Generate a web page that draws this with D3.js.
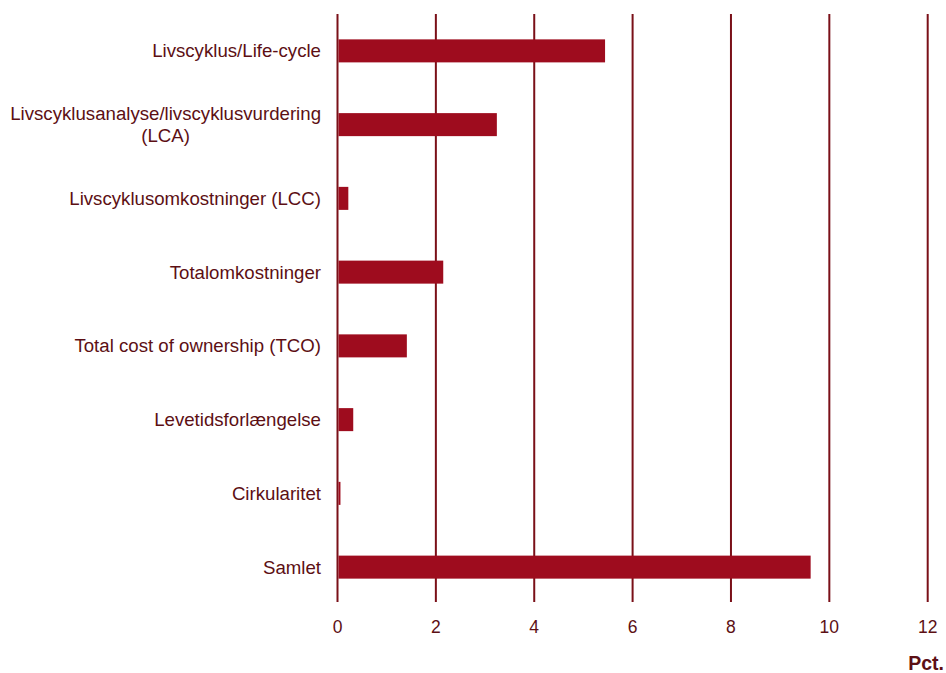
<!DOCTYPE html>
<html><head><meta charset="utf-8">
<script src="https://cdn.jsdelivr.net/npm/d3@7"></script>
<style>body{margin:0;background:#fff;} svg{display:block;font-family:"Liberation Sans",Arial,sans-serif;}</style>
</head><body>
<svg id="c" width="946" height="673"></svg>
<script>
const categories = ["Livscyklus/Life-cycle","Livscyklusanalyse/livscyklusvurdering\n(LCA)","Livscyklusomkostninger (LCC)","Totalomkostninger","Total cost of ownership (TCO)","Levetidsforlængelse","Cirkularitet","Samlet"];
const values = [5.44, 3.24, 0.22, 2.15, 1.41, 0.32, 0.06, 9.62];
const ticks = [0,2,4,6,8,10,12];
const unitLabel = "Pct.";

const svg = d3.select("#c");
const textColor = "#5c0f14", gridColor = "#7a1018", barColor = "#9e0c1e";
const x = d3.scaleLinear().domain([0,12]).range([337.5, 927.7]);
const y = d3.scaleBand().domain(categories).range([14, 604]).paddingInner(0.688).paddingOuter(0.344);

svg.append("g").selectAll("line").data(ticks).join("line")
  .attr("x1", d=>x(d)).attr("x2", d=>x(d)).attr("y1", 14).attr("y2", 602)
  .attr("stroke", gridColor).attr("stroke-width", 2);

svg.append("g").selectAll("rect").data(values).join("rect")
  .attr("x", x(0)+1).attr("y", (d,i)=>y(categories[i]))
  .attr("width", d=>Math.max(0, x(d)-x(0)-1)).attr("height", y.bandwidth())
  .attr("fill", barColor);

const labelRight = 321, fs = 18.65, lh = 22;
svg.append("g").selectAll("text").data(categories).join("text")
  .attr("fill", textColor).attr("font-size", fs)
  .each(function(d){
    const lines = d.split("\n");
    const cy = y(d) + y.bandwidth()/2;
    const t = d3.select(this);
    const spans = lines.map((l,i)=> t.append("tspan")
      .attr("y", cy + (i - (lines.length-1)/2)*lh).attr("dy","0.35em").text(l));
    if (lines.length === 1) {
      t.attr("text-anchor","end"); spans[0].attr("x", labelRight);
    } else {
      const w = d3.max(spans, s=>s.node().getComputedTextLength());
      t.attr("text-anchor","middle"); spans.forEach(s=>s.attr("x", labelRight - w/2));
    }
  });

svg.append("g").selectAll("text").data(ticks).join("text")
  .attr("x", d=>x(d)).attr("y", 627).attr("dy","0.35em").attr("text-anchor","middle")
  .attr("fill", textColor).attr("font-size", 17.5).text(d=>d);

svg.append("text").attr("x", 944).attr("y", 663).attr("dy","0.35em").attr("text-anchor","end")
  .attr("fill", textColor).attr("font-size", 19.5).attr("font-weight","bold").text(unitLabel);
</script>
</body></html>
